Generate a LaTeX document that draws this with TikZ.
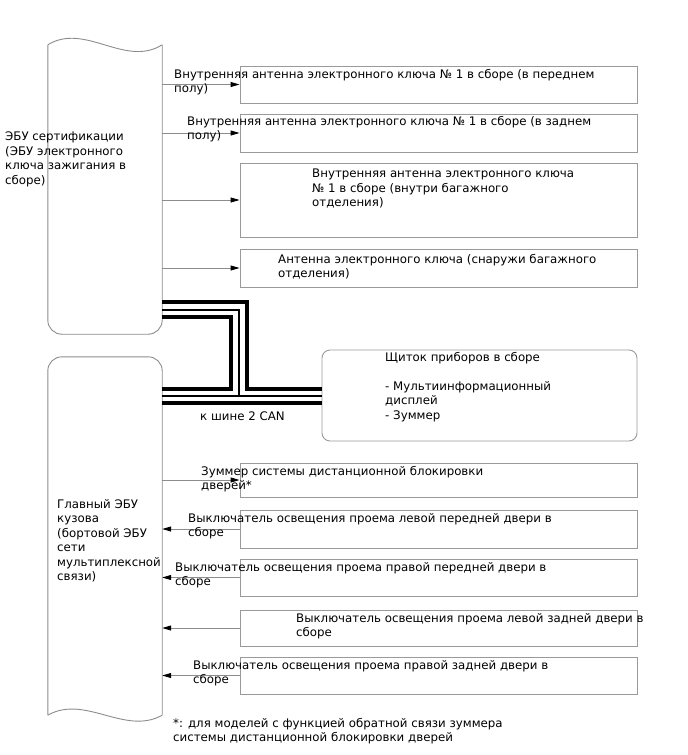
\documentclass[tikz,border=0pt]{standalone}
\usepackage{fontspec}
\setmainfont{DejaVu Sans}
\usetikzlibrary{arrows.meta, positioning, calc}
\definecolor{ecLine}{HTML}{8C8C8C}
\definecolor{ecBox}{HTML}{9A9A9A}
\tikzset{
  lbl/.style={font=\fontsize{11.8}{14.5}\selectfont, align=left, inner sep=0pt,
    anchor=north west, execute at begin node={\rule{0pt}{10pt}}},
  partbox/.style={draw=ecBox, line width=0.9pt, minimum width=397pt, inner sep=0pt},
  ecuarea/.style={inner sep=0pt, minimum width=114pt},
  eculine/.style={draw=ecLine, line width=0.9pt},
  sig/.style={ecLine, line width=0.9pt, -{Triangle[length=9pt, width=5pt, color=black]}},
  busthick/.style={line width=3.5pt, black},
  busthin/.style={line width=1.2pt, black}
}

\begin{document}
\begin{tikzpicture}[x=1pt, y=-1pt]
  \useasboundingbox (0,0) rectangle (688,755);

  % ECU bodies
  \node[ecuarea, minimum height=289pt] (ecuA) at (105,189.5) {};
  \node[ecuarea, minimum height=358pt] (ecuB) at (105,536) {};
  \draw[eculine, rounded corners=14pt] (ecuA.north west) -- (ecuA.south west) -- (ecuA.south east) -- (ecuA.north east);
  \draw[eculine] (ecuA.north west) .. controls (85,22) and (125,68) .. (ecuA.north east);
  \draw[eculine, rounded corners=14pt] (ecuB.south west) -- (ecuB.north west) -- (ecuB.north east) -- (ecuB.south east);
  \draw[eculine] (ecuB.south east) .. controls (125,736) and (85,694) .. (ecuB.south west);

  % parts
  \foreach \n/\yc/\h in {1/84.5/37, 2/133/38, 3/200/74, 4/268/38, 5/480/34,
                         6/529/38, 7/577.5/37, 8/628/36, 9/675.5/37}
    \node[partbox, minimum height=\h pt] (b\n) at (438.5,\yc) {};
  \node[draw=ecBox, line width=0.9pt, rounded corners=8pt, minimum width=315pt,
        minimum height=91pt, inner sep=0pt] (clu) at (479.5,395.5) {};

  % signal lines
  \foreach \n in {1,...,4}
    \draw[sig] (ecuA.east |- b\n.west) -- (b\n.west);
  \draw[sig] (ecuB.east |- b5.west) -- (b5.west);
  \foreach \n in {6,...,9}
    \draw[sig] (b\n.west) -- (ecuB.east |- b\n.west);

  % CAN bus
  \draw[busthick] (ecuA.east |- 0,302) -| (247,389) -- (clu.west |- 0,389);
  \draw[busthin] (ecuA.east |- 0,310) -| (239,396);
  \draw[busthin] (ecuB.east |- 0,396) -- (clu.west |- 0,396);
  \draw[busthick] (ecuA.east |- 0,317) -| (231,389) -- (ecuB.east |- 0,389);
  \draw[busthick] (ecuB.east |- 0,403) -- (clu.west |- 0,403);

  % labels
  \node[lbl] (tEcuA) at (5,132) {ЭБУ сертификации\\(ЭБУ электронного\\ключа зажигания в\\сборе)};
  \node[lbl] (tEcuB) at (57,499) {Главный ЭБУ\\кузова\\(бортовой ЭБУ\\сети\\мультиплексной\\связи)};
  \node[lbl] (t1) at (174,69) {Внутренняя антенна электронного ключа № 1 в сборе (в переднем\\полу)};
  \node[lbl] (t2) at (187,116) {Внутренняя антенна электронного ключа № 1 в сборе (в заднем\\полу)};
  \node[lbl] (t3) at (312,169) {Внутренняя антенна электронного ключа\\№ 1 в сборе (внутри багажного\\отделения)};
  \node[lbl] (t4) at (278,254) {Антенна электронного ключа (снаружи багажного\\отделения)};
  \node[lbl] (tClu) at (385,352) {Щиток приборов в сборе\\[14.5pt]- Мультиинформационный\\дисплей\\- Зуммер};
  \node[lbl] (tCan) at (200,410) {к шине 2 CAN};
  \node[lbl] (t5) at (201,466) {Зуммер системы дистанционной блокировки\\дверей*};
  \node[lbl] (t6) at (188,513) {Выключатель освещения проема левой передней двери в\\сборе};
  \node[lbl] (t7) at (175,562) {Выключатель освещения проема правой передней двери в\\сборе};
  \node[lbl] (t8) at (296,613) {Выключатель освещения проема левой задней двери в\\сборе};
  \node[lbl] (t9) at (193,660) {Выключатель освещения проема правой задней двери в\\сборе};
  \node[lbl] (tNote) at (173,718) {*: для моделей с функцией обратной связи зуммера\\системы дистанционной блокировки дверей};
\end{tikzpicture}
\end{document}
